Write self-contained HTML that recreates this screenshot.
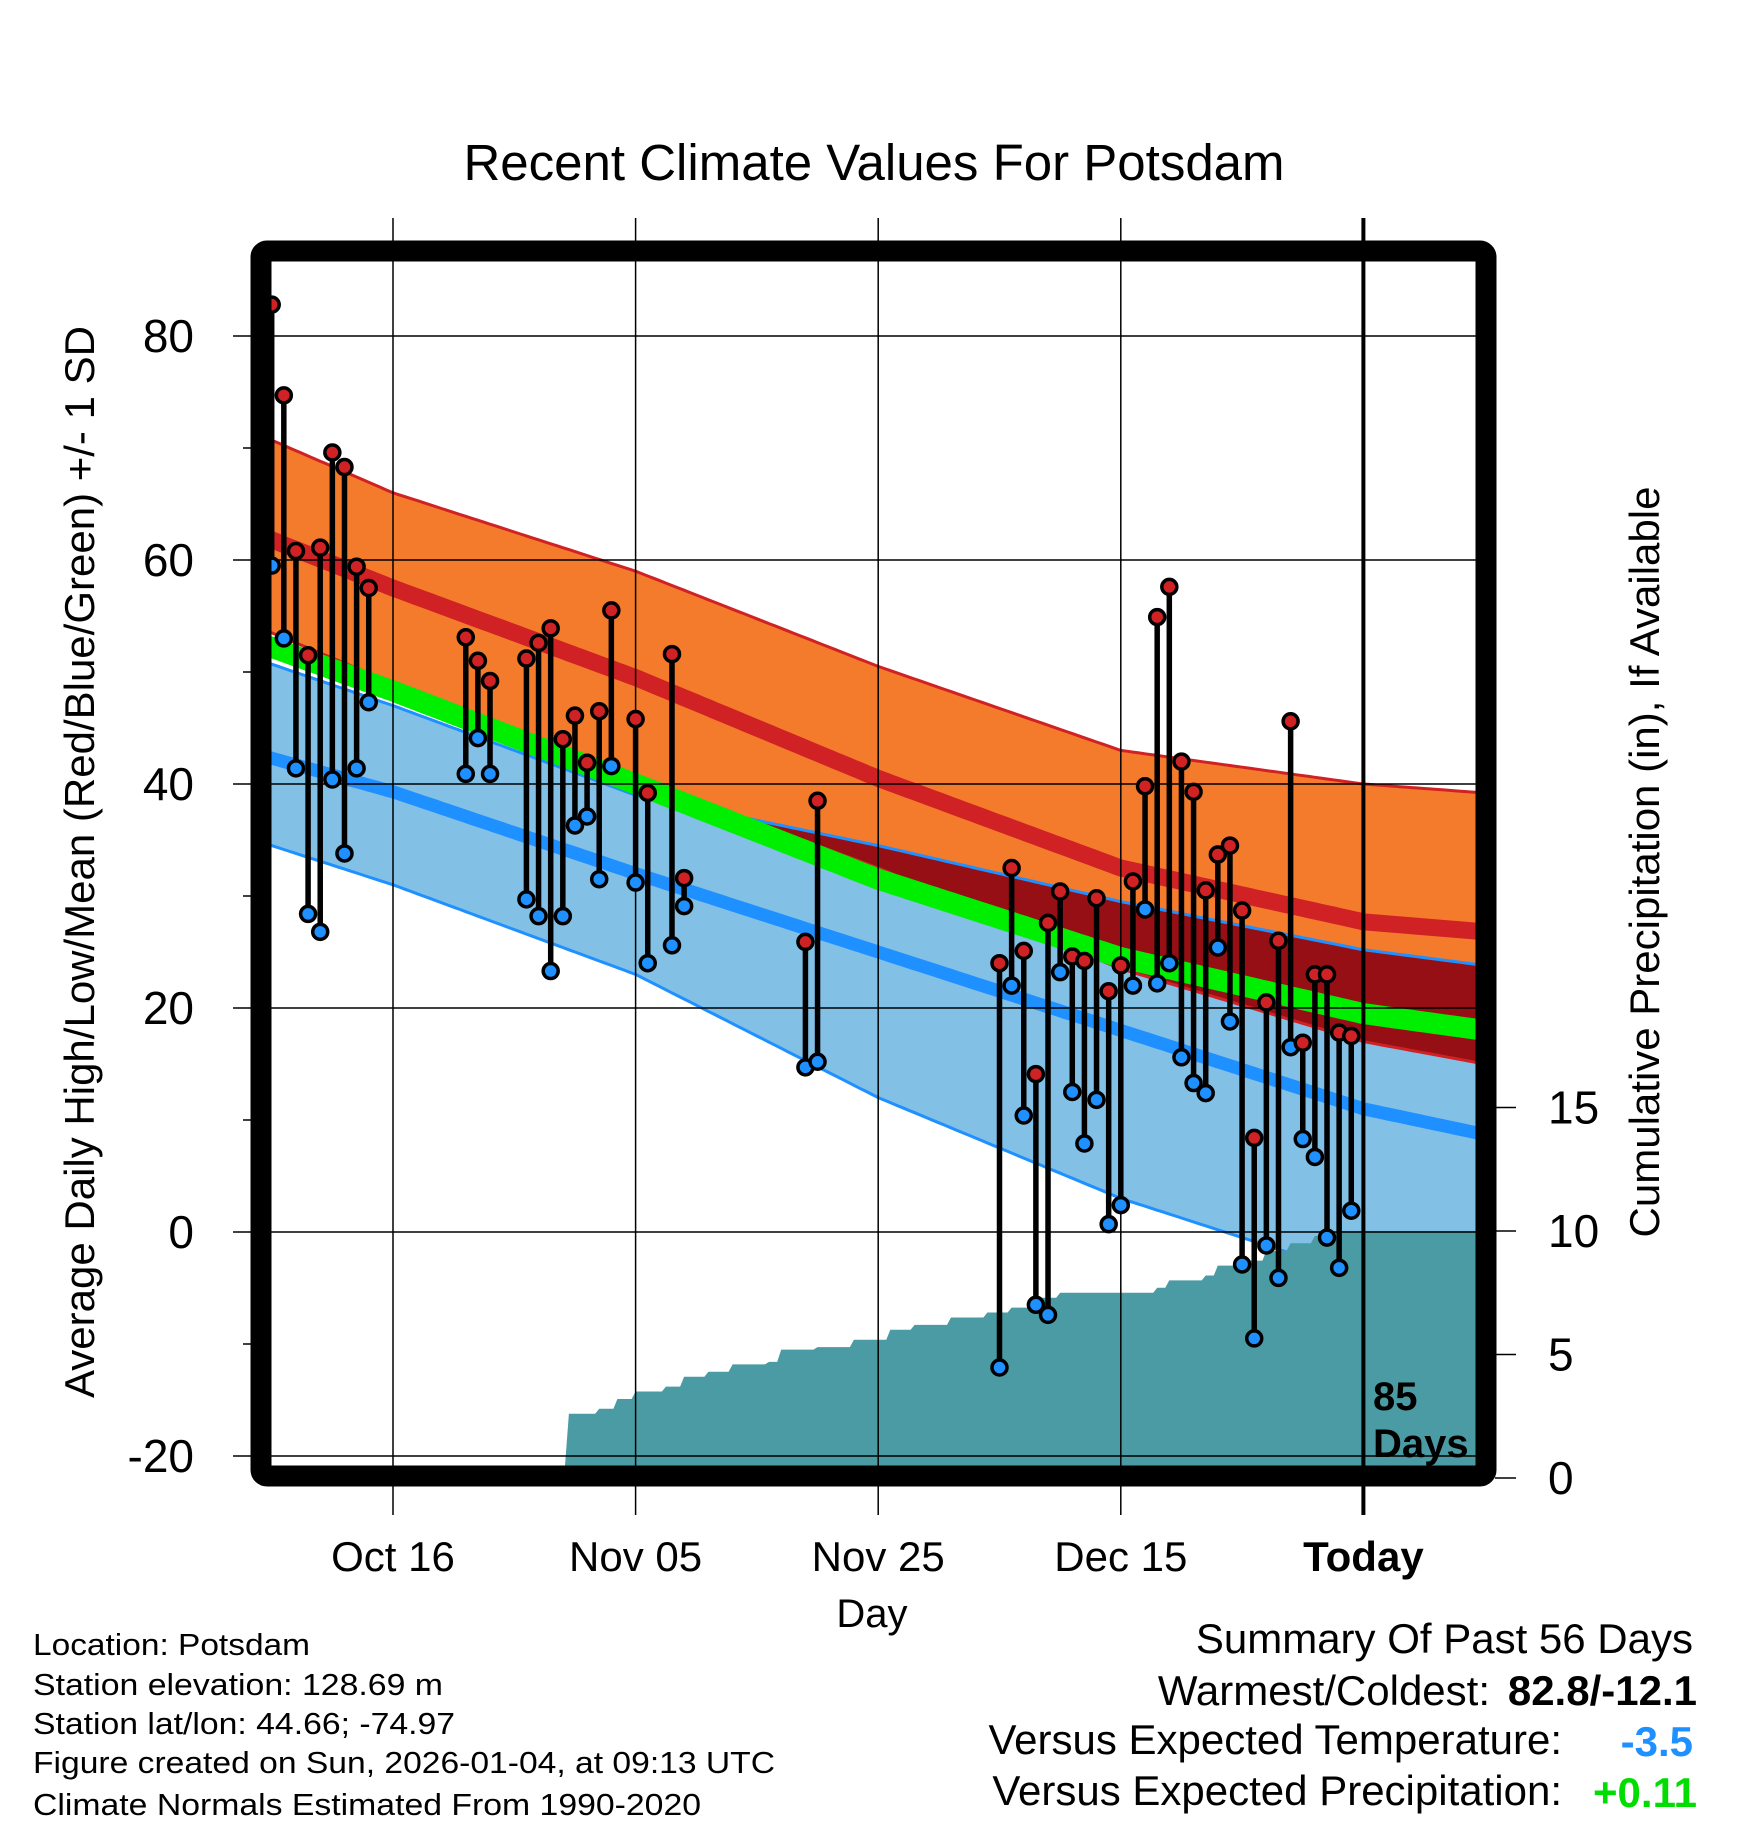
<!DOCTYPE html>
<html><head><meta charset="utf-8"><style>
html,body{margin:0;padding:0;background:#fff;}
svg{display:block;font-family:"Liberation Sans",sans-serif;}
</style></head><body>
<svg id="chart" width="1748" height="1828" viewBox="0 0 1748 1828">
<defs><clipPath id="plotclip"><rect x="270" y="260" width="1207" height="1207"/></clipPath></defs>
<g id="layers" clip-path="url(#plotclip)"></g>
<g id="grid"></g>
<g id="axes"></g>
<g id="marks" clip-path="url(#plotclip)"></g>
<rect x="261" y="251" width="1225" height="1225" rx="6" fill="none" stroke="#000" stroke-width="21"/>
<text x="874" y="180" font-size="51" text-anchor="middle">Recent Climate Values For Potsdam</text>
<text transform="translate(94,862) rotate(-90)" font-size="42" text-anchor="middle">Average Daily High/Low/Mean (Red/Blue/Green) +/- 1 SD</text>
<text transform="translate(1659,862) rotate(-90)" font-size="42" text-anchor="middle">Cumulative Precipitation (in), If Available</text>
<text x="872" y="1627" font-size="40" text-anchor="middle">Day</text>
<text x="1373" y="1410" font-size="40" font-weight="bold">85</text>
<text x="1373" y="1457" font-size="40" font-weight="bold">Days</text>
<g font-size="31">
<text x="33" y="1655" textLength="277" lengthAdjust="spacingAndGlyphs">Location: Potsdam</text>
<text x="33" y="1695" textLength="410" lengthAdjust="spacingAndGlyphs">Station elevation: 128.69 m</text>
<text x="33" y="1734" textLength="422" lengthAdjust="spacingAndGlyphs">Station lat/lon: 44.66; -74.97</text>
<text x="33" y="1773" textLength="742" lengthAdjust="spacingAndGlyphs">Figure created on Sun, 2026-01-04, at 09:13 UTC</text>
<text x="33" y="1815" textLength="668" lengthAdjust="spacingAndGlyphs">Climate Normals Estimated From 1990-2020</text>
</g>
<g font-size="42" text-anchor="end">
<text x="1693" y="1653">Summary Of Past 56 Days</text>
<text x="1490" y="1705">Warmest/Coldest:</text>
<text x="1697" y="1705" font-weight="bold">82.8/-12.1</text>
<text x="1562" y="1754">Versus Expected Temperature:</text>
<text x="1693" y="1756" font-weight="bold" fill="#1e90ff">-3.5</text>
<text x="1562" y="1805">Versus Expected Precipitation:</text>
<text x="1697" y="1807" font-weight="bold" fill="#00dd00">+0.11</text>
</g>
</svg>
<script>
// ---- data ----
const normDays   = [-10, 0, 20, 40, 60, 80, 90];
const hiUpper    = [70.7, 66, 59, 50.5, 43, 40, 39.2];
const hiMean     = [61.8, 57.5, 49.5, 40.5, 32.5, 27.7, 26.8];
const hiLower    = [53.5, 49, 40.5, 32.5, 23.5, 17, 15];
const meanMean   = [52.2, 48.3, 40, 31.5, 24.5, 19.5, 18];
const loUpper    = [50.7, 47, 39, 34.5, 29.5, 25.2, 23.8];
const loMean     = [42.3, 39.3, 32, 25, 18, 11, 8.7];
const loLower    = [34.5, 31, 23, 12, 3, -4, -7];
const obsDays  = [-10,-9,-8,-7,-6,-5,-4,-3,-2,6,7,8,11,12,13,14,15,16,17,18,20,21,23,24,34,35,50,51,52,53,54,55,56,57,58,59,60,61,62,63,64,65,66,67,68,69,70,71,72,73,74,75,76,77,78,79];
const obsHigh  = [82.8,74.7,60.8,51.5,61.1,69.6,68.3,59.4,57.5,53.1,51,49.2,51.2,52.6,53.9,44,46.1,41.9,46.5,55.5,45.8,39.2,51.6,31.6,25.9,38.5,24,32.5,25.1,14.1,27.6,30.4,24.6,24.2,29.8,21.5,23.8,31.3,39.8,54.9,57.6,42,39.3,30.5,33.7,34.5,28.7,8.4,20.5,26,45.6,16.9,23,23,17.8,17.5];
const obsLow   = [59.5,53,41.4,28.4,26.8,40.4,33.8,41.4,47.3,40.9,44.1,40.9,29.7,28.2,23.3,28.2,36.3,37.1,31.5,41.6,31.2,24,25.6,29.1,14.7,15.2,-12.1,22,10.4,-6.5,-7.4,23.2,12.5,7.9,11.8,0.7,2.4,22,28.8,22.2,24,15.6,13.3,12.4,25.4,18.8,-2.9,-9.5,-1.2,-4.1,16.5,8.3,6.7,-0.5,-3.2,1.9];
const precipDays = [-11,6,7,13,14.5,17,18.5,20,22.5,24,26,28,31,32,35,38,41,43,46,49,51,53,55,62,63,64,67,68,70,72,74,76,77,78,90];
const precipVals = [0,0,0.45,0.45,2.6,2.8,3.2,3.5,3.7,4.1,4.3,4.6,4.7,5.2,5.3,5.6,6.0,6.2,6.5,6.7,6.9,7.3,7.5,7.5,7.7,8.0,8.2,8.6,8.8,9.2,9.5,9.8,9.95,10,10];
const yTicks = [80,60,40,20,0,-20];
const xTickDays = [0,20,40,60,80];
const xTickLabels = ["Oct 16","Nov 05","Nov 25","Dec 15","Today"];
const pTicks = [0,5,10,15];

// ---- scales ----
const NS="http://www.w3.org/2000/svg";
const X = d => 393 + d*12.13;
const Y = v => 1232 - v*11.2;
const P = p => 1478 - p*24.7;
function interp(arr, d){
  for(let i=0;i<normDays.length-1;i++){
    if(d<=normDays[i+1]){const t=(d-normDays[i])/(normDays[i+1]-normDays[i]);return arr[i]+t*(arr[i+1]-arr[i]);}
  }
  return arr[arr.length-1];
}
const samp=[]; for(let d=-11; d<=90; d+=0.5) samp.push(d);
function line(arr){return samp.map((d,i)=>(i?'L':'M')+X(d).toFixed(1)+','+Y(interp(arr,d)).toFixed(1)).join('');}
function band(top,bot){
  let s=samp.map((d,i)=>(i?'L':'M')+X(d).toFixed(1)+','+Y(top(d)).toFixed(1)).join('');
  s+=samp.slice().reverse().map(d=>'L'+X(d).toFixed(1)+','+Y(bot(d)).toFixed(1)).join('');
  return s+'Z';
}
function mk(parent,tag,attrs){const e=document.createElementNS(NS,tag);for(const k in attrs)e.setAttribute(k,attrs[k]);parent.appendChild(e);return e;}
const L=document.getElementById('layers'), G=document.getElementById('grid'), A=document.getElementById('axes'), M=document.getElementById('marks');

let e;
e=mk(L,'path',{d:band(d=>interp(loUpper,d),d=>interp(loLower,d)),fill:'#82c0e6'});


e=mk(L,'path',{d:band(d=>interp(hiUpper,d),d=>interp(hiLower,d)),fill:'#f47a2c'});


e=mk(L,'path',{d:band(d=>interp(loUpper,d),d=>Math.min(interp(loUpper,d),interp(hiLower,d))),fill:'#950f15'});


e=mk(L,'path',{d:line(hiUpper),fill:'none',stroke:'#d02224','stroke-width':3});


e=mk(L,'path',{d:line(hiLower),fill:'none',stroke:'#d02224','stroke-width':3});


e=mk(L,'path',{d:line(loUpper),fill:'none',stroke:'#1e90ff','stroke-width':3});


e=mk(L,'path',{d:line(loLower),fill:'none',stroke:'#1e90ff','stroke-width':3});


e=mk(L,'path',{d:line(hiMean),fill:'none',stroke:'#d02224','stroke-width':17});


e=mk(L,'path',{d:line(meanMean),fill:'none',stroke:'#00ee00','stroke-width':21});


e=mk(L,'path',{d:line(loMean),fill:'none',stroke:'#1e90ff','stroke-width':13});


// precip area (slanted steps)
let pd='M'+X(precipDays[0])+','+P(0);
for(let i=0;i<precipDays.length;i++){
  pd+='L'+X(precipDays[i]).toFixed(1)+','+P(precipVals[i]).toFixed(1);
  if(i<precipDays.length-1) pd+='L'+(X(precipDays[i+1])-4).toFixed(1)+','+P(precipVals[i]).toFixed(1);
}
pd+='L'+X(precipDays[precipDays.length-1])+','+P(0)+'Z';
e=mk(L,'path',{d:pd,fill:'#4a9ba3'});



yTicks.forEach(v=>{
  e=mk(G,'line',{x1:233,x2:1477,y1:Y(v),y2:Y(v),stroke:'#000','stroke-width':1.5});
  
  
  e=mk(A,'text',{x:194,y:Y(v)+16,'font-size':46,'text-anchor':'end'});
  e.textContent=String(v);
  
  
});
for(let v=-10; v<=70; v+=20){
  e=mk(A,'line',{x1:243,x2:252,y1:Y(v),y2:Y(v),stroke:'#000','stroke-width':1.5});
  
  
}
xTickDays.forEach((d,i)=>{
  e=mk(G,'line',{x1:X(d),x2:X(d),y1:218,y2:1515,stroke:'#000','stroke-width':i===4?4:1.5});
  
  
  e=mk(A,'text',{x:X(d),y:1571,'font-size':42,'text-anchor':'middle','font-weight':i===4?'bold':'normal'});
  e.textContent=xTickLabels[i];
  
  
});
pTicks.forEach(p=>{
  e=mk(A,'line',{x1:1495,x2:1516,y1:P(p),y2:P(p),stroke:'#000','stroke-width':1.5});
  
  
  e=mk(A,'text',{x:1548,y:P(p)+16,'font-size':46});
  e.textContent=String(p);
  
  
});

obsDays.forEach((d,i)=>{
  const x=X(d);
  e=mk(M,'line',{x1:x,x2:x,y1:Y(obsHigh[i]),y2:Y(obsLow[i]),stroke:'#000','stroke-width':5.5});
  
  
  e=mk(M,'circle',{cx:x,cy:Y(obsLow[i]),r:7.5,fill:'#1e90ff',stroke:'#000','stroke-width':3.5});
  
  
  e=mk(M,'circle',{cx:x,cy:Y(obsHigh[i]),r:7.5,fill:'#d02224',stroke:'#000','stroke-width':3.5});
  
  
});
</script>
</body></html>
